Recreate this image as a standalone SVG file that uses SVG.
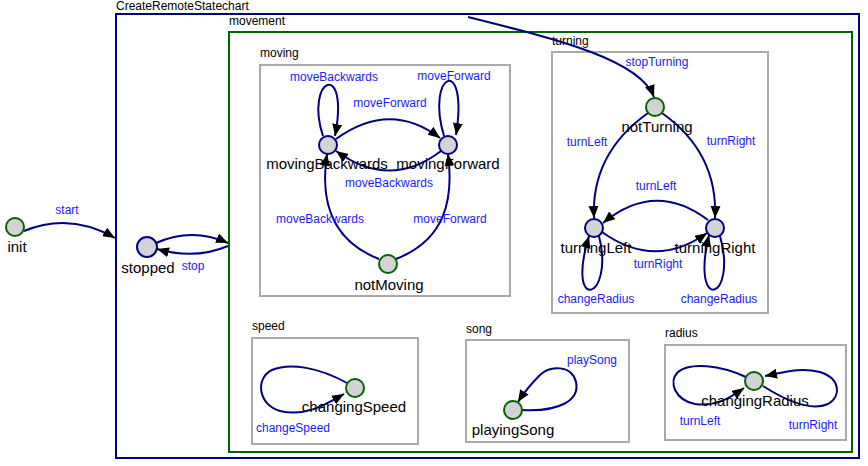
<svg xmlns="http://www.w3.org/2000/svg" width="868" height="466" viewBox="0 0 868 466">
<style>
text{font-family:"Liberation Sans",Arial,sans-serif}
.ct{font-size:12px;fill:#000}
.nl{font-size:15px;fill:#000;text-anchor:middle}
.el{font-size:12px;fill:#1a1aff;text-anchor:middle}
.st{fill:#d3d3d3;stroke:#000080;stroke-width:2}
.ini{fill:#d3d3d3;stroke:#006400;stroke-width:2}
.box{fill:none;stroke:#aaaaaa;stroke-width:2}
.e{fill:none;stroke:#000080;stroke-width:2;marker-end:url(#arr)}
</style>
<defs>
<marker id="arr" markerUnits="userSpaceOnUse" markerWidth="14" markerHeight="12" refX="12" refY="5" orient="auto">
<path d="M0,0 L12,5 L0,10 z" fill="#000"/>
</marker>
</defs>
<rect width="868" height="466" fill="#fff"/>
<g id="CreateRemoteStatechart">
<rect x="116" y="14" width="743" height="444" fill="none" stroke="#000080" stroke-width="2"/>
<text class="ct" x="116" y="10">CreateRemoteStatechart</text>
</g>
<g id="movement">
<rect x="229" y="32" width="623" height="420" fill="none" stroke="#006400" stroke-width="2"/>
<text class="ct" x="229" y="25">movement</text>
</g>
<g id="moving">
<rect class="box" x="260" y="65" width="250" height="231"/>
<text class="ct" x="260" y="57">moving</text>
</g>
<g id="turning">
<rect class="box" x="552" y="52" width="216" height="261"/>
<text class="ct" x="552" y="45">turning</text>
</g>
<g id="speed">
<rect class="box" x="252" y="338" width="166" height="106"/>
<text class="ct" x="252" y="330">speed</text>
</g>
<g id="song">
<rect class="box" x="466" y="340" width="163" height="102"/>
<text class="ct" x="466" y="333">song</text>
</g>
<g id="radius">
<rect class="box" x="665" y="345" width="181" height="95"/>
<text class="ct" x="665" y="337">radius</text>
</g>
<g id="connectors">
<path class="e" d="M24 231 Q70 212 115 238"/>
<text class="el" x="67" y="214">start</text>
<path class="e" d="M156 243 Q192 227 228 243"/>
<path class="e" d="M228 246 Q195 260 157 249"/>
<text class="el" x="193" y="270">stop</text>
<path class="e" d="M323 136 C304 78 350 58 335 136"/>
<text class="el" x="334" y="81">moveBackwards</text>
<path class="e" d="M444 136 C425 73 469 53 456 135"/>
<text class="el" x="454" y="80">moveForward</text>
<path class="e" d="M336 139 Q390 100 440 138"/>
<text class="el" x="390" y="107">moveForward</text>
<path class="e" d="M441 151 Q390 190 336 151"/>
<text class="el" x="389" y="187">moveBackwards</text>
<path class="e" d="M379 259 C330 240 320 200 327 154"/>
<text class="el" x="320" y="223">moveBackwards</text>
<path class="e" d="M396 259 C445 240 454 200 448 154"/>
<text class="el" x="450" y="223">moveForward</text>
<path class="e" d="M468 17 C560 40 640 60 654 97"/>
<text class="el" x="657" y="66">stopTurning</text>
<path class="e" d="M648 113 C610 140 592 175 594 218"/>
<text class="el" x="587" y="146">turnLeft</text>
<path class="e" d="M662 113 C700 140 717 175 715 218"/>
<text class="el" x="731" y="145">turnRight</text>
<path class="e" d="M708 220 Q655 180 603 223"/>
<text class="el" x="656" y="190">turnLeft</text>
<path class="e" d="M602 232 Q655 270 707 233"/>
<text class="el" x="658" y="268">turnRight</text>
<path class="e" d="M599 236 C615 300 565 315 589 236"/>
<text class="el" x="596" y="303">changeRadius</text>
<path class="e" d="M720 236 C738 300 690 315 709 235"/>
<text class="el" x="719" y="303">changeRadius</text>
<path class="e" d="M347 383 C320 368 290 362 272 370 C255 378 258 405 280 411 C305 417 325 405 344 394"/>
<text class="el" x="293" y="432">changeSpeed</text>
<path class="e" d="M522 410 C560 412 580 400 576 382 C572 365 550 365 540 375 C530 385 523 394 518 402"/>
<text class="el" x="592" y="364">playSong</text>
<path class="e" d="M746 377 C720 365 690 362 678 372 C668 382 675 400 695 404 C715 407 730 398 744 388"/>
<text class="el" x="700" y="425">turnLeft</text>
<path class="e" d="M763 386 C785 400 810 412 828 404 C842 396 840 378 820 372 C800 367 785 372 765 376"/>
<text class="el" x="813" y="429">turnRight</text>
</g>
<g id="init"><circle class="ini" cx="15" cy="227" r="9"/><text class="nl" x="17" y="252">init</text></g>
<g id="stopped"><circle class="st" cx="147" cy="247" r="10"/><text class="nl" x="148" y="273">stopped</text></g>
<g id="movingBackwards"><circle class="st" cx="328" cy="145" r="9"/><text class="nl" x="327" y="169">movingBackwards</text></g>
<g id="movingForward"><circle class="st" cx="448" cy="145" r="9"/><text class="nl" x="448" y="169">movingForward</text></g>
<g id="notMoving"><circle class="ini" cx="388" cy="264" r="9"/><text class="nl" x="389" y="290">notMoving</text></g>
<g id="notTurning"><circle class="ini" cx="655" cy="107" r="9"/><text class="nl" x="657" y="132">notTurning</text></g>
<g id="turningLeft"><circle class="st" cx="594" cy="228" r="9"/><text class="nl" x="596" y="253">turningLeft</text></g>
<g id="turningRight"><circle class="st" cx="715" cy="228" r="9"/><text class="nl" x="715" y="253">turningRight</text></g>
<g id="changingSpeed"><circle class="ini" cx="355" cy="388" r="9"/><text class="nl" x="354" y="412">changingSpeed</text></g>
<g id="playingSong"><circle class="ini" cx="513" cy="410" r="9"/><text class="nl" x="513" y="435">playingSong</text></g>
<g id="changingRadius"><circle class="ini" cx="754" cy="381" r="9"/><text class="nl" x="755" y="406">changingRadius</text></g>
</svg>
